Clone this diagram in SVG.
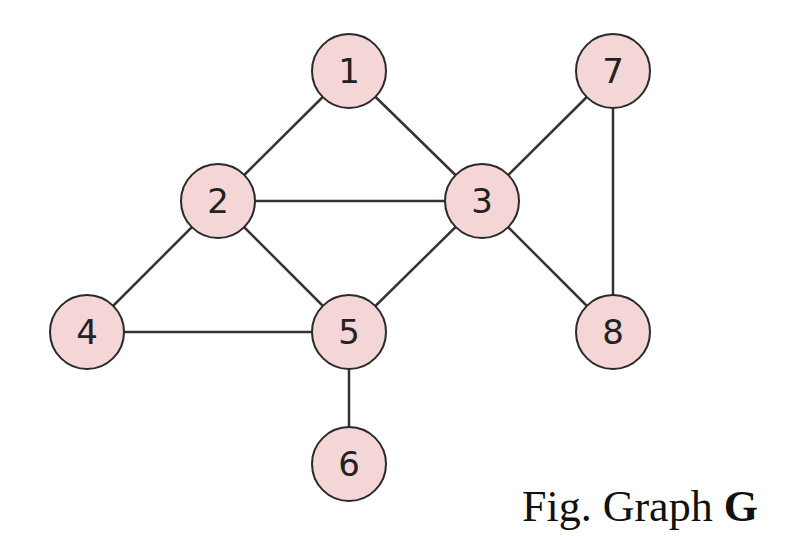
<svg xmlns="http://www.w3.org/2000/svg" width="796" height="536" viewBox="0 0 796 536">
<style>
.e{stroke:#333;stroke-width:2.5;fill:none}
.n circle{fill:#f5d6d6;stroke:#2a2a2a;stroke-width:2}
.n text{font-family:"DejaVu Sans","Liberation Sans",sans-serif;font-size:34px;fill:#222;text-anchor:middle;dominant-baseline:central}
.cap{font-family:"Liberation Serif",serif;font-size:44px;fill:#111}
</style>
<rect width="796" height="536" fill="#fff"/>
<g id="edges">
<line class="e" x1="349" y1="71" x2="218" y2="201"/>
<line class="e" x1="349" y1="71" x2="482" y2="201"/>
<line class="e" x1="218" y1="201" x2="482" y2="201"/>
<line class="e" x1="218" y1="201" x2="87" y2="332"/>
<line class="e" x1="218" y1="201" x2="349" y2="332"/>
<line class="e" x1="482" y1="201" x2="349" y2="332"/>
<line class="e" x1="482" y1="201" x2="613" y2="71"/>
<line class="e" x1="482" y1="201" x2="613" y2="332"/>
<line class="e" x1="613" y1="71" x2="613" y2="332"/>
<line class="e" x1="87" y1="332" x2="349" y2="332"/>
<line class="e" x1="349" y1="332" x2="349" y2="464"/>
</g>
<g id="node1" class="n"><circle cx="349" cy="71" r="37"/><text x="349" y="71">1</text></g>
<g id="node2" class="n"><circle cx="218" cy="201" r="37"/><text x="218" y="201">2</text></g>
<g id="node3" class="n"><circle cx="482" cy="201" r="37"/><text x="482" y="201">3</text></g>
<g id="node4" class="n"><circle cx="87" cy="332" r="37"/><text x="87" y="332">4</text></g>
<g id="node5" class="n"><circle cx="349" cy="332" r="37"/><text x="349" y="332">5</text></g>
<g id="node6" class="n"><circle cx="349" cy="464" r="37"/><text x="349" y="464">6</text></g>
<g id="node7" class="n"><circle cx="613" cy="71" r="37"/><text x="613" y="71">7</text></g>
<g id="node8" class="n"><circle cx="613" cy="332" r="37"/><text x="613" y="332">8</text></g>
<text class="cap" x="522" y="521">Fig. Graph <tspan font-weight="bold">G</tspan></text>
</svg>
